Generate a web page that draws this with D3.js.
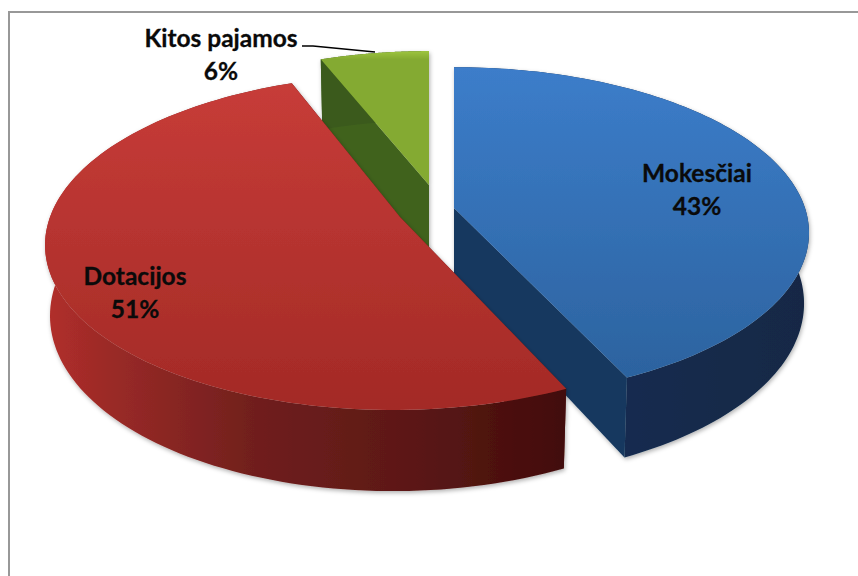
<!DOCTYPE html>
<html>
<head>
<meta charset="utf-8">
<script src="https://cdn.jsdelivr.net/npm/d3@7"></script>
<style>
html, body { margin: 0; padding: 0; background: #fff; }
svg { display: block; }
text { font-family: Lato, "Open Sans", sans-serif; font-weight: 700; fill: #0a0a0a; stroke: #0a0a0a; stroke-width: 0.3px; }
</style>
</head>
<body>
<svg id="chart" width="858" height="576"></svg>
<script>
// Municipal income shares, in clockwise order from twelve o'clock
const categories = ["Mokesčiai", "Dotacijos", "Kitos pajamos"];
const shares = [43, 51, 6];

// Exploded-slice placement and perspective of the tilted disc
const PERSPECTIVE = 0.15;
const BASE_SHRINK = 0.986;
const placement = [
  { cx: 454, cy: 208, rx: 351, ry: 162, skew: 0, depth: 69 },
  { cx: 400, cy: 217, rx: 350, ry: 164, skew: -6, depth: 69 },
  { cx: 429, cy: 185, rx: 335, ry: 154, skew: 0, depth: 80 }
];
const labelPlacement = [
  { x: 697, y: 182 },
  { x: 135, y: 285 },
  { x: 221, y: 47 }
];
const FONT_SIZE = 24.5;
const LINE_GAP = 33;

const topColours = [["#3c7dca", "#2c639f"], ["#c73c38", "#a32a26"], ["#9dc43e", "#84aa32"]];
const cutColours = ["#14375f", "#5a1512", "#40621f"];
const rimStops = [
  [["0", "#13305a"], ["1", "#122845"]],
  [["0", "#b02e2a"], ["0.12", "#9a2a27"], ["0.4", "#701f1d"], ["0.7", "#5c1816"], ["1", "#420c0a"]],
  [["0", "#3a5a1c"], ["1", "#3a5a1c"]]
];

const svg = d3.select("#chart");
const defs = svg.append("defs");

const shadow = defs.append("filter").attr("id", "soft-shadow")
  .attr("x", "-5%").attr("y", "-5%").attr("width", "110%").attr("height", "115%");
shadow.append("feDropShadow")
  .attr("dx", 1).attr("dy", 2).attr("stdDeviation", 2.2)
  .attr("flood-color", "#000").attr("flood-opacity", 0.3);

// Chart area frame: only the top and left rules fall inside the window
svg.append("path")
  .attr("d", d3.line()([[9, 576], [9, 12], [858, 12]]))
  .attr("fill", "none").attr("stroke", "#989898").attr("stroke-width", 2);

const pie = d3.pie().sort(null)(shares);
const line = d3.line();

// Project a disc angle to the top face (lift 0) or the base (lift 1)
function project(p, angle, radial, lift) {
  const u = Math.sin(angle) * radial;
  const v = -Math.cos(angle) * radial;
  const s = 1 / (1 - PERSPECTIVE * v);
  const k = lift ? BASE_SHRINK : 1;
  return [
    p.cx + (p.rx * u + p.skew * v) * s * k,
    p.cy + p.ry * v * s + (lift ? p.depth * s : 0)
  ];
}

pie.forEach((slice, i) => {
  const p = placement[i];
  const a0 = slice.startAngle, a1 = slice.endAngle;
  const steps = d3.range(0, 121).map(t => a0 + (a1 - a0) * t / 120);
  const topRim = steps.map(a => project(p, a, 1, 0));
  const baseRim = steps.map(a => project(p, a, 1, 1));
  const apexTop = project(p, 0, 0, 0);
  const apexBase = project(p, 0, 0, 1);

  const topFill = `top-${i}`;
  const grad = defs.append("linearGradient").attr("id", topFill)
    .attr("gradientUnits", "userSpaceOnUse")
    .attr("x1", 0).attr("y1", d3.min(topRim, d => d[1])).attr("x2", 0).attr("y2", d3.max(topRim, d => d[1]));
  grad.append("stop").attr("offset", 0).attr("stop-color", topColours[i][0]);
  grad.append("stop").attr("offset", 1).attr("stop-color", topColours[i][1]);

  const rimFill = `rim-${i}`;
  const xs = d3.extent(baseRim, d => d[0]);
  const rimGrad = defs.append("linearGradient").attr("id", rimFill)
    .attr("gradientUnits", "userSpaceOnUse")
    .attr("x1", xs[0]).attr("y1", 0).attr("x2", xs[1]).attr("y2", 0);
  rimStops[i].forEach(s => rimGrad.append("stop").attr("offset", s[0]).attr("stop-color", s[1]));

  const g = svg.append("g").attr("class", "slice").attr("filter", "url(#soft-shadow)");

  // Cut faces come first; the rim and top face then overlap whatever is hidden
  [[topRim[0], baseRim[0]], [topRim[120], baseRim[120]]].forEach(edge => {
    g.append("path")
      .attr("d", line([apexTop, edge[0], edge[1], apexBase]) + "Z")
      .attr("fill", cutColours[i]);
  });
  g.append("path")
    .attr("d", line(topRim.concat(baseRim.slice().reverse())) + "Z")
    .attr("fill", `url(#${rimFill})`);
  g.append("path")
    .attr("d", line([apexTop].concat(topRim)) + "Z")
    .attr("fill", `url(#${topFill})`);
});

// The red slice sits nearest the viewer, so it goes over the other two
svg.selectAll("g.slice").filter((d, i) => i === 1).raise();

// Data labels
categories.forEach((name, i) => {
  const l = labelPlacement[i];
  const t = svg.append("text").attr("text-anchor", "middle").attr("font-size", FONT_SIZE);
  t.append("tspan").attr("x", l.x).attr("y", l.y).text(name);
  t.append("tspan").attr("x", l.x).attr("y", l.y + LINE_GAP).text(`${shares[i]}%`);
});

// Leader from the small slice to its label
svg.append("path")
  .attr("d", line([[302, 46], [313, 46], [375, 52]]))
  .attr("fill", "none").attr("stroke", "#000").attr("stroke-width", 1.4);
</script>
</body>
</html>
